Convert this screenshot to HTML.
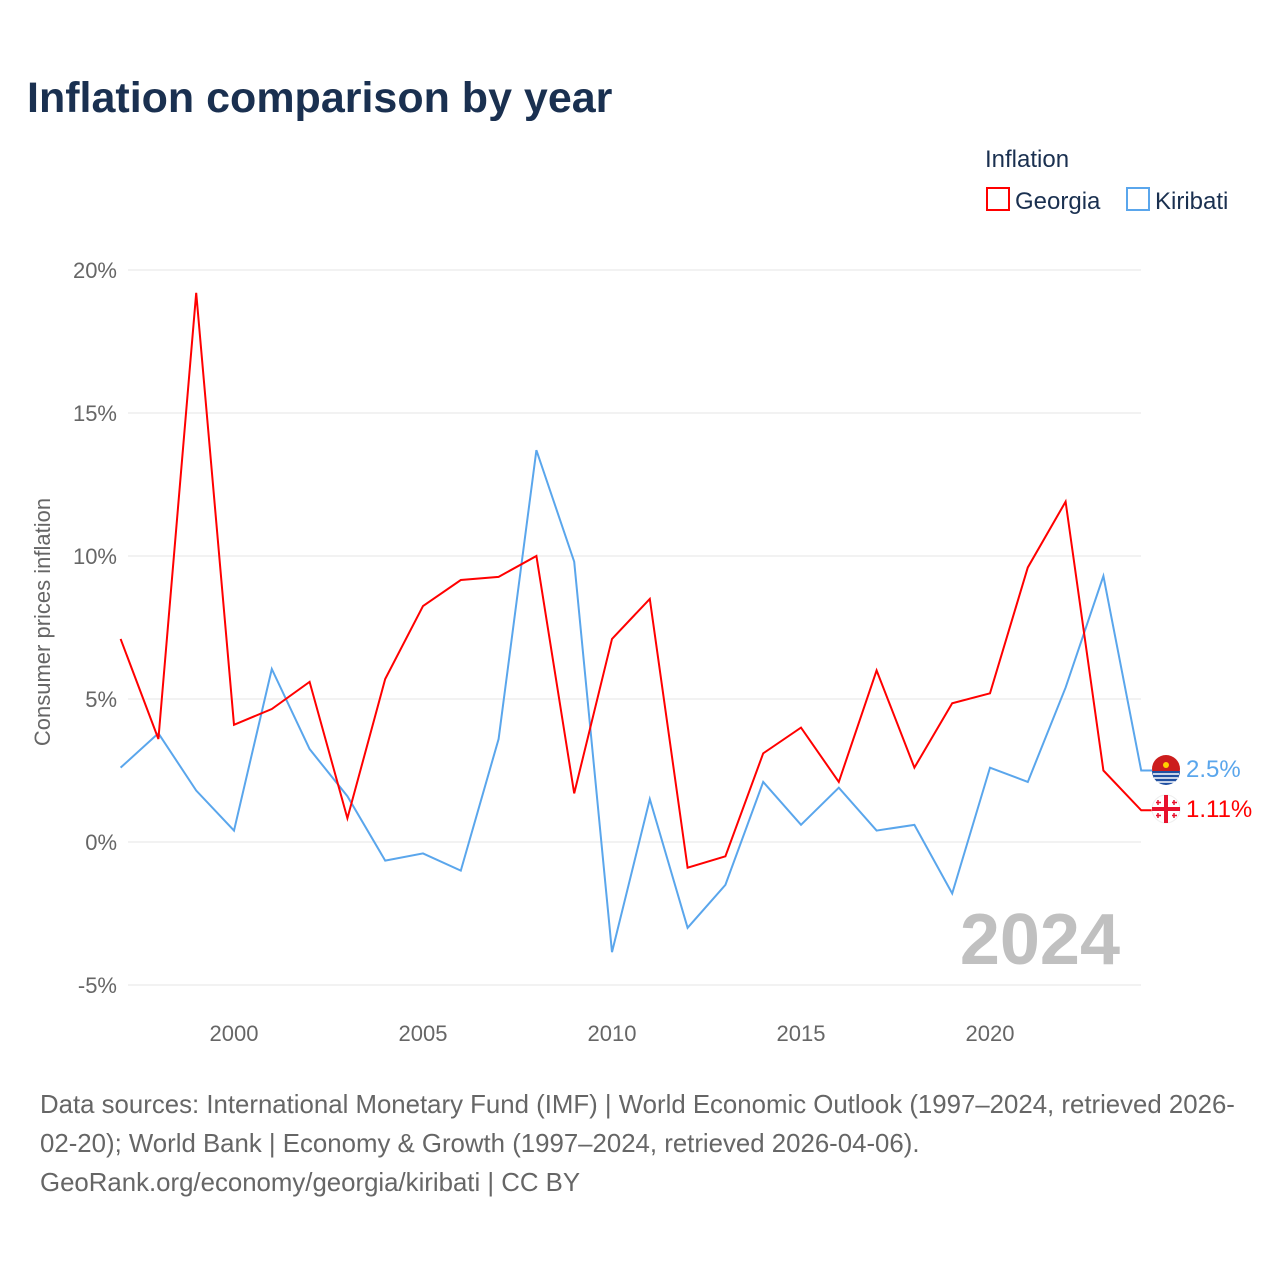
<!DOCTYPE html>
<html><head><meta charset="utf-8"><style>
body{margin:0;background:#fff;font-family:"Liberation Sans",sans-serif}
svg text{font-family:"Liberation Sans",sans-serif}
</style></head><body>
<svg width="1280" height="1280" xmlns="http://www.w3.org/2000/svg">
<text x="27" y="112" font-size="43" font-weight="bold" fill="#1a3050">Inflation comparison by year</text>
<text x="985" y="167" font-size="24" fill="#1a3050">Inflation</text>
<g><rect x="987" y="188" width="22" height="22" fill="none" stroke="#ff0000" stroke-width="2"/><text x="1015" y="209" font-size="24" fill="#1a3050">Georgia</text></g>
<g><rect x="1127" y="188" width="22" height="22" fill="none" stroke="#5aa6ec" stroke-width="2"/><text x="1155" y="209" font-size="24" fill="#1a3050">Kiribati</text></g>
<g id="grid"></g><g id="xt"></g>
<text transform="translate(50,622) rotate(-90)" text-anchor="middle" font-size="22" fill="#666">Consumer prices inflation</text>
<text x="1120" y="964" text-anchor="end" font-size="72" font-weight="bold" fill="#c0c0c0">2024</text>
<g id="series"></g>
<g><circle cx="1166" cy="769" r="14" fill="#cc1d1d"/><path d="M1152 771 H1180 A14 14 0 0 1 1152 771Z" fill="#1f4fa0"/><path d="M1153 774 H1179 M1154 778 H1178 M1157 782 H1175" stroke="#fff" stroke-width="1.5"/><circle cx="1166" cy="765" r="3" fill="#ffd000"/></g>
<g><circle cx="1166" cy="809" r="14" fill="#fff" stroke="#eee"/><path d="M1166 795 V823 M1152 809 H1180" stroke="#e8112d" stroke-width="4"/><path d="M1158 800v5M1156 802.5h5M1174 800v5M1172 802.5h5M1158 813v5M1156 815.5h5M1174 813v5M1172 815.5h5" stroke="#e8112d" stroke-width="1.5"/></g>
<text x="1186" y="777" font-size="24" fill="#5aa6ec">2.5%</text>
<text x="1186" y="817" font-size="24" fill="#ff0000">1.11%</text>
<g font-size="25.8" fill="#666">
<text x="40" y="1113">Data sources: International Monetary Fund (IMF) | World Economic Outlook (1997–2024, retrieved 2026-</text>
<text x="40" y="1152">02-20); World Bank | Economy &amp; Growth (1997–2024, retrieved 2026-04-06).</text>
<text x="40" y="1191">GeoRank.org/economy/georgia/kiribati | CC BY</text></g>
</svg>
<script>
const years=[];for(let y=1997;y<=2024;y++)years.push(y);
const georgia=[7.1,3.6,19.2,4.1,4.65,5.6,0.83,5.7,8.25,9.16,9.27,10.0,1.7,7.1,8.5,-0.9,-0.5,3.1,4.0,2.1,6.0,2.6,4.85,5.2,9.6,11.9,2.5,1.11];
const kiribati=[2.6,3.8,1.8,0.4,6.05,3.25,1.6,-0.65,-0.4,-1.0,3.6,13.7,9.8,-3.85,1.5,-3.0,-1.5,2.1,0.6,1.9,0.4,0.6,-1.8,2.6,2.1,5.4,9.3,2.5];
const yTicks=[20,15,10,5,0,-5];
const xTicks=[2000,2005,2010,2015,2020];
const X=y=>120.6+(y-1997)*37.8, Y=v=>842-v*28.6;
const NS="http://www.w3.org/2000/svg";
const g=document.getElementById('grid');
yTicks.forEach(t=>{
 const l=document.createElementNS(NS,'line');l.setAttribute('x1',128);l.setAttribute('x2',1141);l.setAttribute('y1',Y(t));l.setAttribute('y2',Y(t));l.setAttribute('stroke','#e6e6e6');
 
 
 g.appendChild(l);
 const tx=document.createElementNS(NS,'text');tx.setAttribute('x',117);tx.setAttribute('y',Y(t)+8);tx.setAttribute('text-anchor','end');tx.setAttribute('font-size',22);tx.setAttribute('fill','#666');tx.textContent=t+'%';
 
 
 g.appendChild(tx);
});
const xt=document.getElementById('xt');
xTicks.forEach(t=>{
 const tx=document.createElementNS(NS,'text');tx.setAttribute('x',X(t));tx.setAttribute('y',1041);tx.setAttribute('text-anchor','middle');tx.setAttribute('font-size',22);tx.setAttribute('fill','#666');tx.textContent=t;
 
 
 xt.appendChild(tx);
});
const s=document.getElementById('series');
[[kiribati,'#5aa6ec','kiribati-line'],[georgia,'#ff0000','georgia-line']].forEach(([d,c,n])=>{
 let p=d.map((v,i)=>(i?'L':'M')+X(years[i])+' '+Y(v)).join(' ');
 p+=' H1152';
 const e=document.createElementNS(NS,'path');e.setAttribute('d',p);e.setAttribute('fill','none');e.setAttribute('stroke',c);e.setAttribute('stroke-width',2);
 
 
 s.appendChild(e);
});
</script>
</body></html>
